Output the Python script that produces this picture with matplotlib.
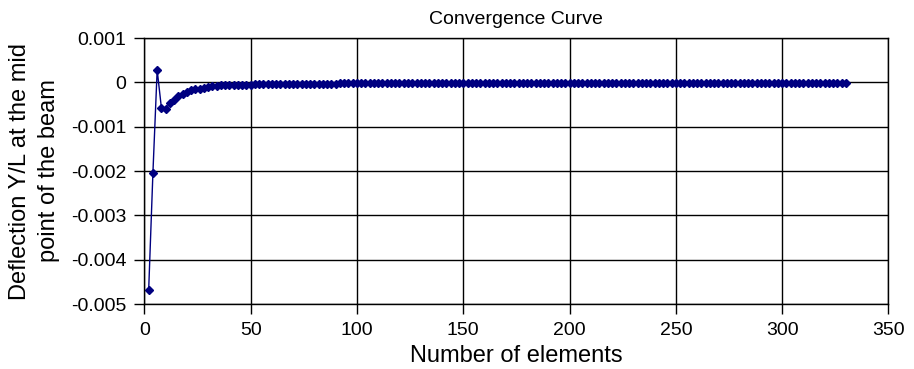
import matplotlib
matplotlib.use('Agg')
import matplotlib.pyplot as plt

plt.rcParams['font.family'] = ['Liberation Sans', 'DejaVu Sans']

# number of elements
n_elements = list(range(2, 331, 2))

# deflection Y/L at mid point
defl_start = [-0.00469, -0.00204, 0.00028, -0.00058, -0.00061, -0.00046, -0.00039, -0.00031,
              -0.00026, -0.00022, -0.00018, -0.00016, -0.00014, -0.00012, -0.0001, -0.00009,
              -0.00008, -0.00007, -0.000065, -0.00006]
defl_mid1 = [-0.000056, -0.000054, -0.000052, -0.00005, -0.000049, -0.000048, -0.000047,
             -0.000046, -0.000045]
defl_mid2 = [-0.000036, -0.000035, -0.000034, -0.000033, -0.000032, -0.000031, -0.00003,
             -0.00003, -0.000029, -0.000029, -0.000028, -0.000028, -0.000027, -0.000027,
             -0.000026, -0.000026, -0.000025, -0.000025, -0.000024]
defl_tail = [
    -0.000012, -0.000012, -0.000012, -0.000011, -0.000011, -0.000011, -0.000011, -0.000011, -0.00001, -0.00001,
    -0.00001, -0.00001, -0.00001, -0.00001, -0.00001, -0.000009, -0.000009, -0.000009, -0.000009, -0.000009,
    -0.000009, -0.000009, -0.000009, -0.000008, -0.000008, -0.000008, -0.000008, -0.000008, -0.000008, -0.000008,
    -0.000008, -0.000008, -0.000008, -0.000007, -0.000007, -0.000007, -0.000007, -0.000007, -0.000007, -0.000007,
    -0.000007, -0.000007, -0.000007, -0.000007, -0.000007, -0.000007, -0.000006, -0.000006, -0.000006, -0.000006,
    -0.000006, -0.000006, -0.000006, -0.000006, -0.000006, -0.000006, -0.000006, -0.000006, -0.000006, -0.000006,
    -0.000006, -0.000006, -0.000006, -0.000006, -0.000006, -0.000005, -0.000005, -0.000005, -0.000005, -0.000005,
    -0.000005, -0.000005, -0.000005, -0.000005, -0.000005, -0.000005, -0.000005, -0.000005, -0.000005, -0.000005,
    -0.000005, -0.000005, -0.000005, -0.000005, -0.000005, -0.000005, -0.000005, -0.000005, -0.000005, -0.000005,
    -0.000005, -0.000005, -0.000005, -0.000004, -0.000004, -0.000004, -0.000004, -0.000004, -0.000004, -0.000004,
    -0.000004, -0.000004, -0.000004, -0.000004, -0.000004, -0.000004, -0.000004, -0.000004, -0.000004, -0.000004,
    -0.000004, -0.000004, -0.000004, -0.000004, -0.000004, -0.000004, -0.000004,
]
deflection = defl_start + defl_mid1 + defl_mid2 + defl_tail

y_ticks = [0.001, 0, -0.001, -0.002, -0.003, -0.004, -0.005]
y_labels = ['0.001', '0', '-0.001', '-0.002', '-0.003', '-0.004', '-0.005']
x_ticks = [0, 50, 100, 150, 200, 250, 300, 350]

fig = plt.figure(figsize=(9.14, 3.69), dpi=100)
ax = fig.add_axes([0.158, 0.176, 0.814, 0.721])

ax.plot(n_elements, deflection, color='#000080', lw=1.0, marker='D', markersize=4,
        markerfacecolor='#000080', markeredgecolor='#000080')

ax.set_xlim(0, 350)
ax.set_ylim(-0.005, 0.001)
ax.set_xticks(x_ticks)
ax.set_yticks(y_ticks)
ax.set_yticklabels(y_labels)
ax.tick_params(axis='both', labelsize=14, direction='out', length=7, width=1,
               color='black', pad=6)
ax.grid(True, color='black', lw=1)
ax.set_axisbelow(True)
for s in ax.spines.values():
    s.set_color('black')
    s.set_linewidth(1)

ax.set_title('Convergence Curve', fontsize=14, pad=10)
ax.set_xlabel('Number of elements', fontsize=17, labelpad=4)
ax.set_ylabel('Deflection Y/L at the mid\npoint of the beam', fontsize=17, labelpad=8,
              linespacing=1.4)

fig.savefig('out.png', dpi=100)
